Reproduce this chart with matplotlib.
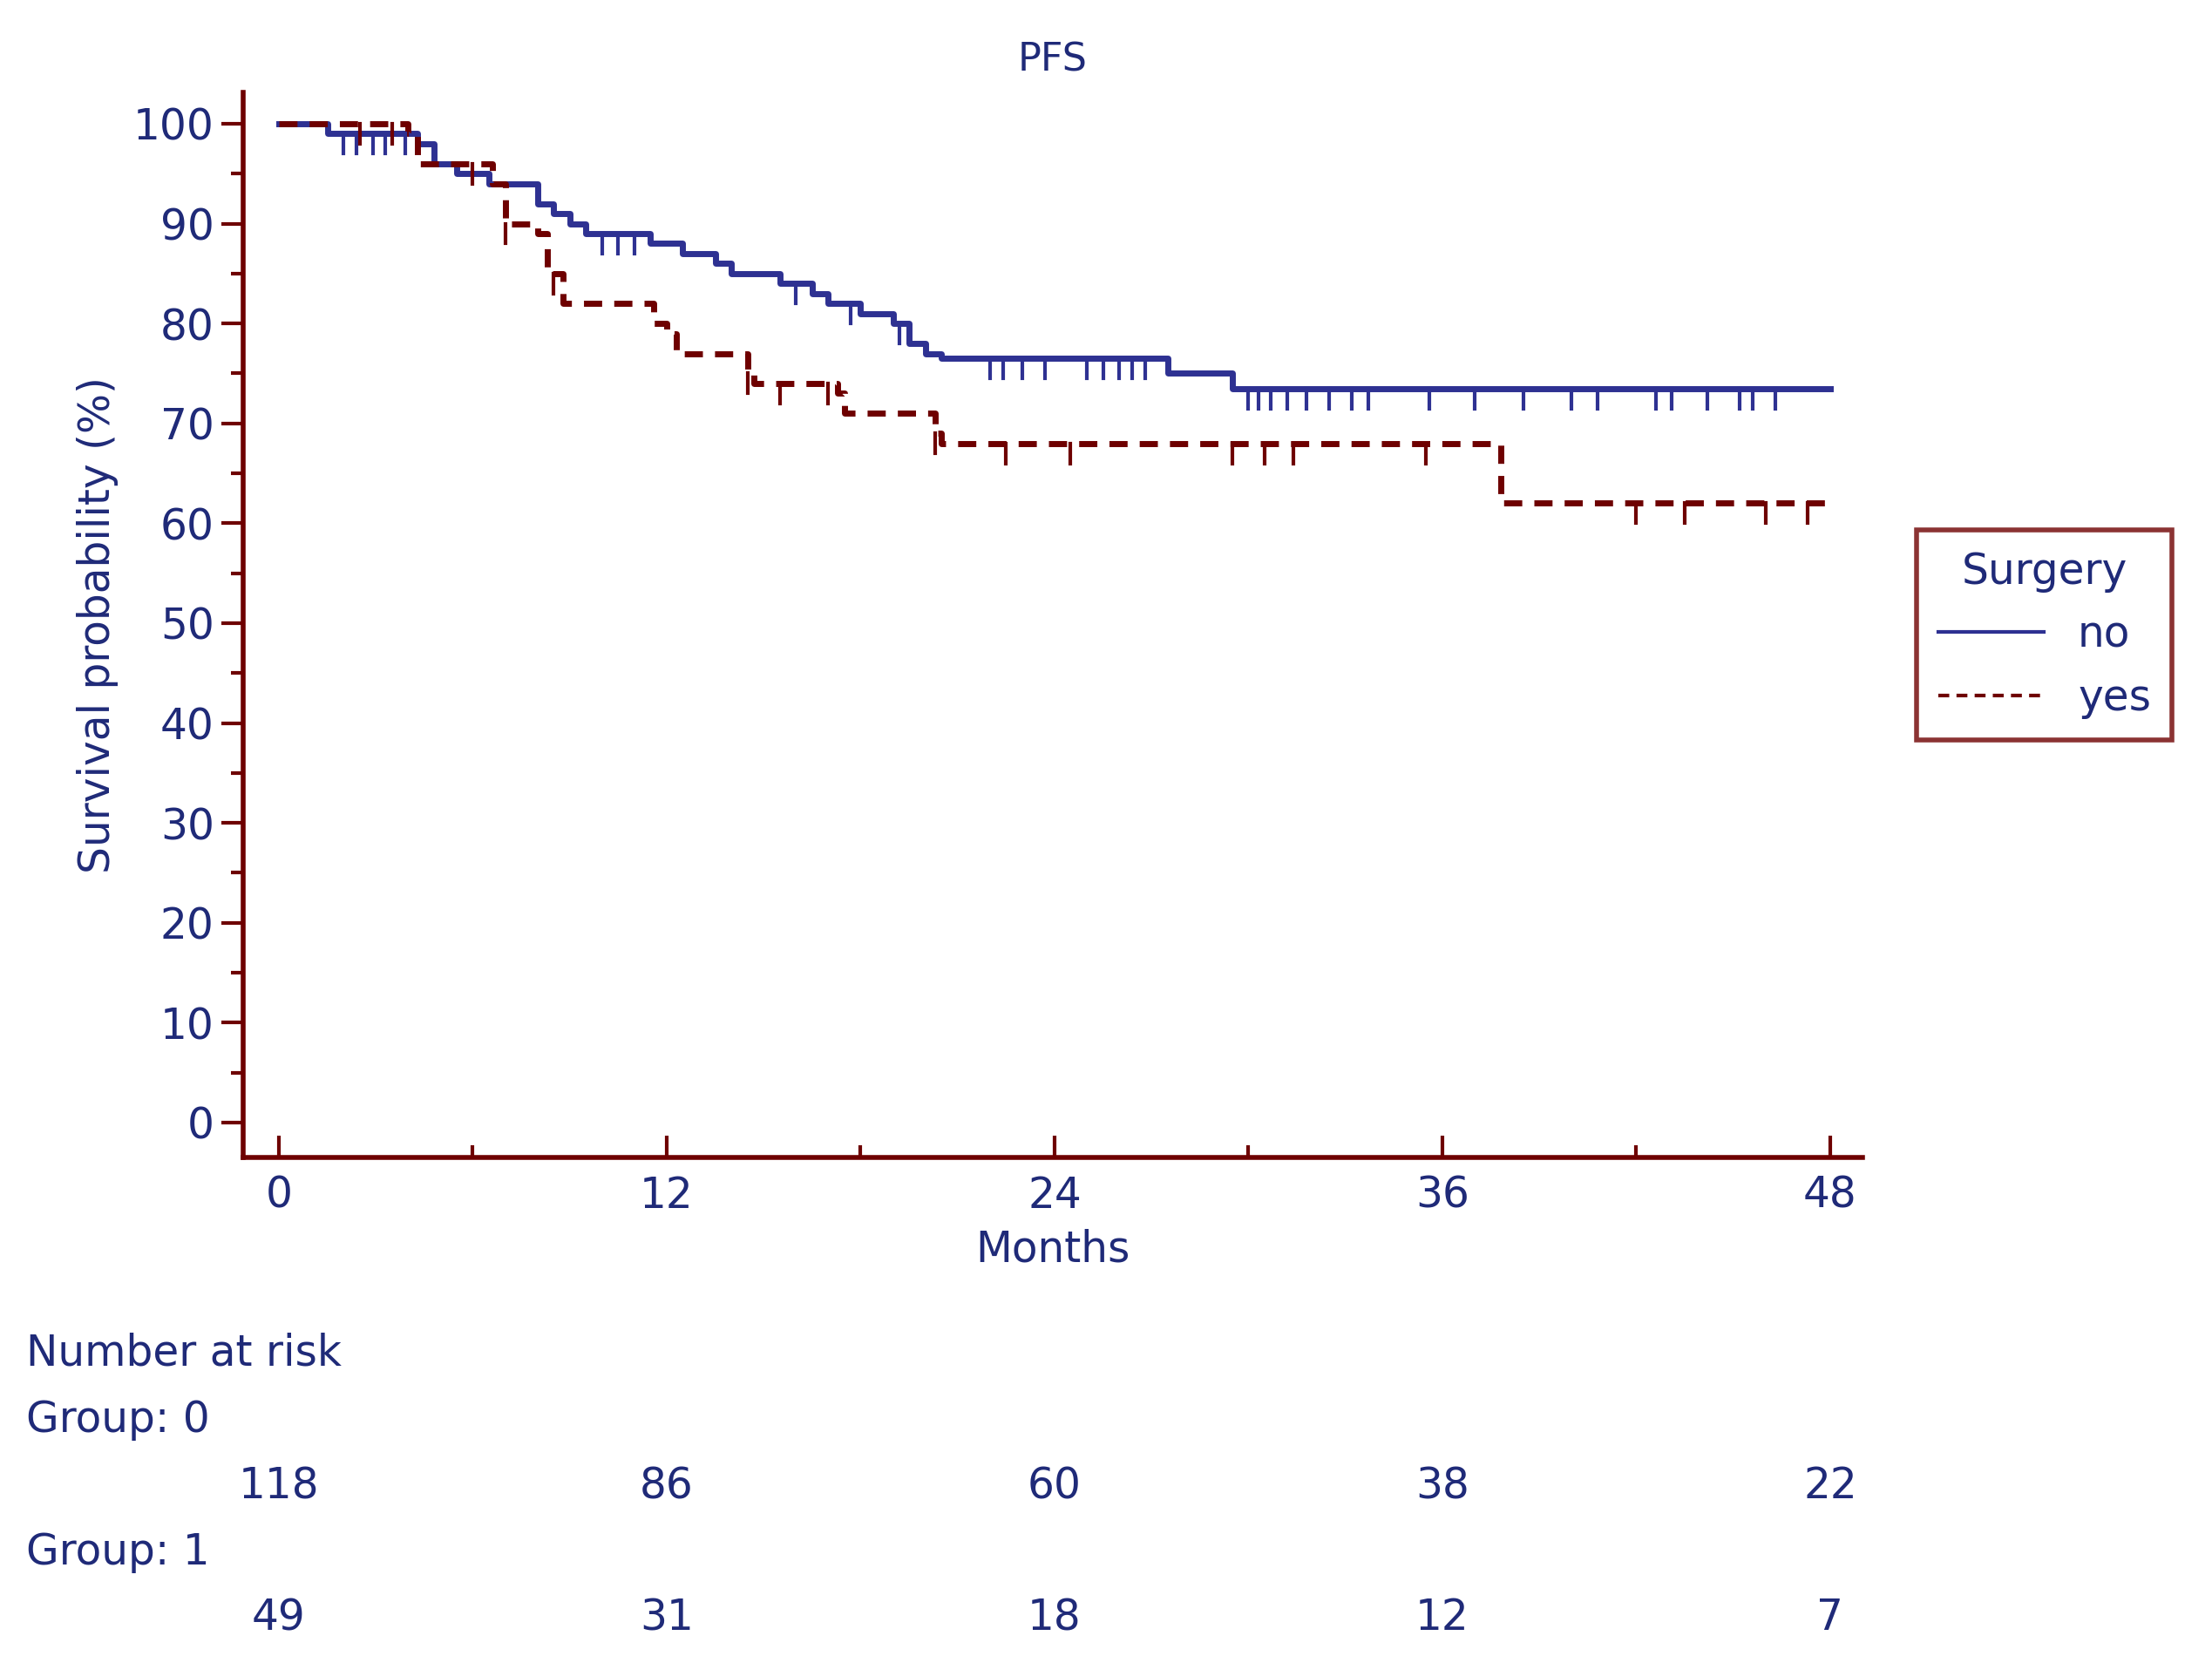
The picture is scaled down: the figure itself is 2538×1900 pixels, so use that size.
import matplotlib
matplotlib.use("Agg")
import matplotlib.pyplot as plt
import matplotlib.transforms as mtrans
from matplotlib.lines import Line2D

no_t = [0, 1.5, 4.3, 4.8, 5.5, 6.5, 8.0, 8.5, 9.0, 9.5, 11.5, 12.5, 13.5, 14.0, 15.5, 16.5, 17.0, 18.0, 19.0, 19.5, 20.0, 20.5, 27.5, 29.5, 48]
no_s = [100, 99, 98, 96, 95, 94, 92, 91, 90, 89, 88, 87, 86, 85, 84, 83, 82, 81, 80, 78, 77, 76.5, 75, 73.5, 73.5]
no_cens = [2.0, 2.4, 2.9, 3.3, 3.9, 10.0, 10.5, 11.0, 16.0, 17.7, 19.2, 22.0, 22.4, 23.0, 23.7, 25.0, 25.5, 26.0, 26.4, 26.8,
           30.0, 30.3, 30.7, 31.2, 31.8, 32.5, 33.2, 33.7, 35.6, 37.0, 38.5, 40.0, 40.8, 42.6, 43.1, 44.2, 45.2, 45.6, 46.3]
yes_t = [0, 4.0, 4.3, 6.6, 7.0, 8.0, 8.3, 8.8, 11.6, 12.0, 12.3, 14.5, 14.7, 17.3, 17.5, 20.3, 20.5, 37.8, 48]
yes_s = [100, 99, 96, 94, 90, 89, 85, 82, 80, 79, 77, 75, 74, 73, 71, 69, 68, 62, 62]
yes_cens = [2.5, 3.5, 6.0, 7.0, 8.5, 14.5, 15.5, 17.0, 20.3, 22.5, 24.5, 29.5, 30.5, 31.4, 35.5, 42.0, 43.5, 46.0, 47.3]

risk_times = [0, 12, 24, 36, 48]
risk_no = [118, 86, 60, 38, 22]
risk_yes = [49, 31, 18, 12, 7]

NAVY = "#2e3192"
TXT = "#1f2a78"
RED = "#6e0000"
FS = 35

def surv_at(ts, ss, t):
    v = ss[0]
    for a, b in zip(ts, ss):
        if a <= t:
            v = b
    return v

fig = plt.figure(figsize=(25.38, 19), dpi=100)
ax = fig.add_axes([0.110, 0.301, 0.732, 0.643])
ax.step(no_t, no_s, where="post", color=NAVY, lw=5)
ax.step(yes_t, yes_s, where="post", color=RED, lw=5, ls=(0, (3, 2)))
for c in no_cens:
    y = surv_at(no_t, no_s, c)
    ax.plot([c, c], [y, y - 2.0], color=NAVY, lw=3)
for c in yes_cens:
    y = surv_at(yes_t, yes_s, c)
    ax.plot([c, c], [y, y - 2.0], color=RED, lw=3)

ax.set_xlim(-1.1, 49.0)
ax.set_ylim(-3.5, 103.1)
ax.set_xticks(risk_times)
ax.set_xticks(range(0, 49, 6), minor=True)
ax.set_yticks(range(0, 101, 10))
ax.set_yticks(range(0, 101, 5), minor=True)
for s in ["top", "right"]:
    ax.spines[s].set_visible(False)
for s in ["left", "bottom"]:
    ax.spines[s].set_color(RED)
    ax.spines[s].set_linewidth(4)
ax.tick_params(axis="both", which="major", length=18, width=3, color=RED, direction="in", labelsize=FS, labelcolor=TXT)
ax.tick_params(axis="both", which="minor", length=10, width=3, color=RED, direction="in")
ax.tick_params(axis="y", which="both", direction="out")
ax.tick_params(axis="y", pad=6)
ax.tick_params(axis="x", pad=14)
ax.set_xlabel("Months", fontsize=FS, color=TXT, labelpad=10)
ax.set_ylabel("Survival probability (%)", fontsize=FS, color=TXT, labelpad=12)
ax.set_title("PFS", fontsize=FS - 3, color=TXT, pad=18)

handles = [Line2D([], [], color=NAVY, lw=3), Line2D([], [], color=RED, lw=3, ls=(0, (3, 2)))]
leg = fig.legend(handles, ["no", "yes"], title="Surgery", loc="upper left",
                 bbox_to_anchor=(0.857, 0.693), fontsize=FS, title_fontsize=FS,
                 frameon=True, fancybox=False, handlelength=2.5, borderpad=0.5)
leg.get_frame().set_edgecolor(RED)
leg.get_frame().set_linewidth(4)
for t in leg.get_texts():
    t.set_color(TXT)
leg.get_title().set_color(TXT)

tr = mtrans.blended_transform_factory(ax.transData, fig.transFigure)
fig.text(0.012, 1 - 956 / 1170, "Number at risk", fontsize=FS, color=TXT, va="center")
fig.text(0.012, 1 - 1003 / 1170, "Group: 0", fontsize=FS, color=TXT, va="center")
fig.text(0.012, 1 - 1097 / 1170, "Group: 1", fontsize=FS, color=TXT, va="center")
for t, a, b in zip(risk_times, risk_no, risk_yes):
    ax.text(t, 1 - 1050 / 1170, str(a), transform=tr, fontsize=FS, color=TXT, ha="center", va="center", clip_on=False)
    ax.text(t, 1 - 1143 / 1170, str(b), transform=tr, fontsize=FS, color=TXT, ha="center", va="center", clip_on=False)

fig.savefig("out.png", dpi=100)
